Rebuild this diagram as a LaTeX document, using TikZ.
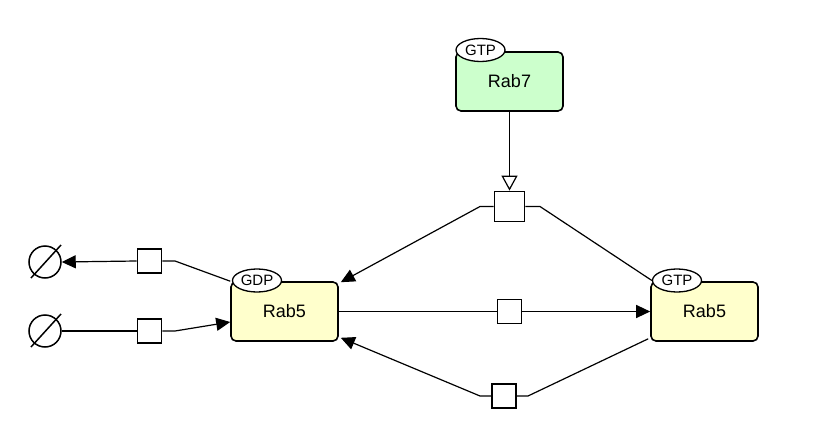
\documentclass[tikz,border=0pt]{standalone}
\usepackage{fontspec}
\setmainfont{Liberation Sans}
\usetikzlibrary{arrows.meta,shapes.geometric,calc}
\definecolor{activegreen}{HTML}{CCFFCC}
\definecolor{proteinyellow}{HTML}{FFFFCC}

\begin{document}
\begin{tikzpicture}[x=1pt,y=-1pt]
		\useasboundingbox (0,0) rectangle (822,439);

		% connectors first, nodes are drawn on top
		\coordinate (P1w) at (480,206.5);
		\coordinate (P1e) at (540,206.5);
		\coordinate (P3w) at (480,396);
		\coordinate (P3e) at (528,396);
		\coordinate (L1e) at (175,261);
		\coordinate (L2e) at (175,331);

		\begin{scope}[every node/.style={rounded corners=5pt,draw,line width=1.6pt,minimum width=107pt,minimum height=59pt,font=\fontsize{18}{20}\selectfont}]
			\node[fill=activegreen] (Rab7) at (509.5,81.5) {Rab7};
			\node[fill=proteinyellow] (Rab5d) at (284.5,311.5) {Rab5};
			\node[fill=proteinyellow] (Rab5t) at (704.5,311.5) {Rab5};
		\end{scope}

		\begin{scope}[every node/.style={ellipse,draw,fill=white,line width=1.3pt,minimum width=49pt,minimum height=23pt,inner sep=0pt,font=\fontsize{15}{16}\selectfont}]
			\node (Rab7s) at (480.5,50) {GTP};
			\node (Rab5ds) at (257,280.5) {GDP};
			\node (Rab5ts) at (677,280.5) {GTP};
		\end{scope}

		\begin{scope}[every node/.style={draw,fill=white,line width=1.8pt,minimum size=24pt,inner sep=0pt}]
			\node[minimum size=30pt] (P1) at (509.5,206.5) {};
			\node (P2) at (509.5,311.5) {};
			\node (P3) at (504,396) {};
			\node (L1) at (149.5,261) {};
			\node (L2) at (149.5,331) {};
		\end{scope}

		\begin{scope}[every node/.style={circle,draw,line width=1.5pt,minimum size=32pt,inner sep=0pt}]
			\node (D1) at (45,262) {};
			\node (D2) at (45,331) {};
		\end{scope}
		\draw[line width=1.5pt] (31,278) -- (61,245);
		\draw[line width=1.5pt] (31,347) -- (61,314);

		\begin{scope}[>={Triangle[length=14pt,width=13pt,black]},line width=1.2pt]
			\draw (Rab5d.north west) -- (L1e) -- (L1.east);
			\draw[->] (L1.west) -- (D1.east);
			\draw (D2.east) -- (L2.west);
			\draw[->] (L2.east) -- (L2e) -- ($(Rab5d.west)+(0,10.5)$);
			\draw (Rab5d.east) -- (P2.west);
			\draw[->] (P2.east) -- (Rab5t.west);
			\draw (Rab5ts.west) -- (P1e) -- (P1.east);
			\draw[->] (P1.west) -- (P1w) -- ($(Rab5d.north east)+(2,1)$);
			\draw ($(Rab5t.south west)+(-2,-3)$) -- (P3e) -- (P3.east);
			\draw[->] (P3.west) -- (P3w) -- ($(Rab5d.south east)+(2,-4)$);
			\draw[-{Triangle[open,length=15pt,width=16pt,fill=white]}] (Rab7.south) -- (P1.north);
		\end{scope}
	\end{tikzpicture}
\end{document}
